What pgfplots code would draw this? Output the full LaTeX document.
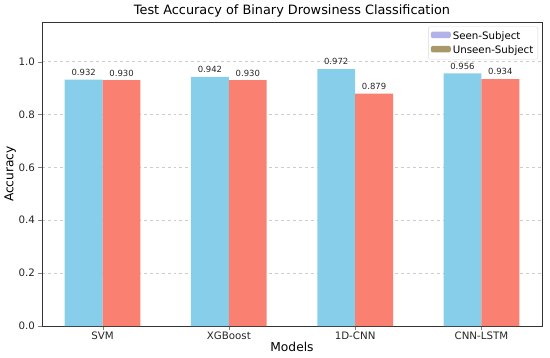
\documentclass[border=0pt]{standalone}
\usepackage{fontspec}
\setmainfont{DejaVu Sans}
\usepackage{pgfplots}
\pgfplotsset{compat=1.18}
\definecolor{seen}{HTML}{87CEEB}
\definecolor{unseen}{HTML}{FA8072}
\definecolor{legseen}{HTML}{B2B2E8}
\definecolor{legunseen}{HTML}{A8996A}
\begin{document}
\begin{tikzpicture}
\begin{axis}[
  name=ax,
  scale only axis,
  width=500bp, height=304bp,
  xmin=-0.48, xmax=3.48,
  ymin=0, ymax=1.15,
  xtick={0,1,2,3},
  xticklabels={SVM,XGBoost,1D-CNN,CNN-LSTM},
  ytick={0,0.2,0.4,0.6,0.8,1.0},
  yticklabel style={/pgf/number format/fixed,/pgf/number format/fixed zerofill,/pgf/number format/precision=1},
  /pgf/number format/assume math mode=true,
  tick label style={font=\fontsize{10.3}{12}\selectfont, text=black!85},
  xticklabel style={yshift=1bp},
  xlabel={Models}, ylabel={Accuracy},
  label style={font=\fontsize{12.3}{14}\selectfont},
  xlabel style={yshift=4bp},
  ylabel style={yshift=-4bp},
  title={Test Accuracy of Binary Drowsiness Classification},
  title style={font=\fontsize{12.9}{14}\selectfont, yshift=-5bp},
  tick align=outside,
  xtick pos=bottom, ytick pos=left,
  major tick length=3.5bp,
  axis line style={black!80, line width=0.6pt},
  ymajorgrids,
  grid style={dashed, gray!40, line width=0.4pt},
  legend style={at={(0.992,0.985)}, anchor=north east, draw=gray!30, rounded corners=2pt,
    font=\fontsize{10.3}{12}\selectfont, row sep=1pt, inner sep=2.5pt},
  legend cell align=left,
  legend image code/.code={\fill[#1] (0cm,-0.08cm) rectangle (0.7cm,0.15cm);},
  nodes near coords,
  nodes near coords style={font=\fontsize{8.5}{10}\selectfont, text=black!85,
    /pgf/number format/fixed,/pgf/number format/fixed zerofill,/pgf/number format/precision=3, yshift=0.5bp},
]
\addplot[ybar, bar width=0.3, bar shift=0, fill=seen, draw=none, forget plot]
  coordinates {(-0.15,0.932) (0.85,0.942) (1.85,0.972) (2.85,0.956)};
\addplot[ybar, bar width=0.3, bar shift=0, fill=unseen, draw=none, forget plot]
  coordinates {(0.15,0.930) (1.15,0.930) (2.15,0.879) (3.15,0.934)};
\addlegendimage{fill=legseen, draw=none}
\addlegendentry{Seen-Subject}
\addlegendimage{fill=legunseen, draw=none}
\addlegendentry{Unseen-Subject}
\end{axis}
\path[use as bounding box] ([xshift=-42bp,yshift=-32bp]ax.south west) rectangle ([xshift=8bp,yshift=22bp]ax.north east);
\end{tikzpicture}
\end{document}
